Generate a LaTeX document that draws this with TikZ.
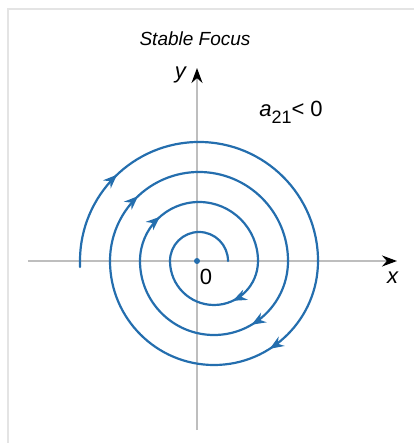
\documentclass[tikz,border=0pt]{standalone}
\usepackage{fontspec}
\setmainfont{Liberation Sans}
\usetikzlibrary{arrows.meta,decorations.markings}
\definecolor{focusblue}{RGB}{36,110,174}
\definecolor{axisgray}{RGB}{190,190,190}
\definecolor{framegray}{RGB}{228,228,228}

\begin{document}
\begin{tikzpicture}[x=0.5pt,y=0.5pt,
    axis/.style={draw=axisgray, line width=1pt, -{Stealth[black,length=7.5pt,width=5.5pt]}},
    spiral/.style={draw=focusblue, line width=1.1pt, line cap=round},
    flow/.style={spiral, postaction={decorate},
      decoration={markings, mark=at position #1 with {\arrow{Stealth[focusblue,length=7pt,width=5.5pt]}}}},
    lbl/.style={inner sep=0pt, font=\fontsize{11}{13}\selectfont}]
    \useasboundingbox (-197,-182) rectangle (217,261);
    % Rahmen:
    \draw[framegray, line width=0.8pt] (-189,-182) -- (-189,252) -- (217,252);
    % Achsen:
    \coordinate (xl) at (-169,0);
    \coordinate (xr) at (200,0);
    \coordinate (yb) at (0,-169);
    \coordinate (yt) at (0,193);
    \draw[axis] (xl) -- (xr); % x-Achse
    \draw[axis] (yb) -- (yt); % y-Achse
    \node[lbl] (xlab) at (196,-17) {\textit{x}};
    \node[lbl] (ylab) at (-16,186) {\textit{y}};
    \node[lbl] (null) at (9,-16) {0};
    \node[lbl] (cond) at (94,149) {\textit{a}\raisebox{-3.5pt}{\fontsize{9}{10}\selectfont 21}< 0};
    \node[inner sep=0pt, font=\fontsize{9.5}{11}\selectfont\itshape] (title) at (-2,222) {Stable Focus};
    % Spirale von aussen nach innen:
    \draw[flow=0.27] (-117,-6) -- (-117,0) arc[start angle=180, end angle=0, radius=119];
    \draw[flow=0.32] (121,0) arc[start angle=0, end angle=-180, radius=104];
    \draw[flow=0.26] (-87,0) arc[start angle=180, end angle=0, radius=89];
    \draw[flow=0.33] (91,0) arc[start angle=0, end angle=-180, radius=74];
    \draw[flow=0.27] (-57,0) arc[start angle=180, end angle=0, radius=59];
    \draw[flow=0.36] (61,0) arc[start angle=0, end angle=-180, radius=44];
    \draw[spiral] (-27,0) arc[start angle=180, end angle=0, radius=29];
    % Fokus:
    \fill[focusblue] (0,0) circle[radius=3];
\end{tikzpicture}
\end{document}
